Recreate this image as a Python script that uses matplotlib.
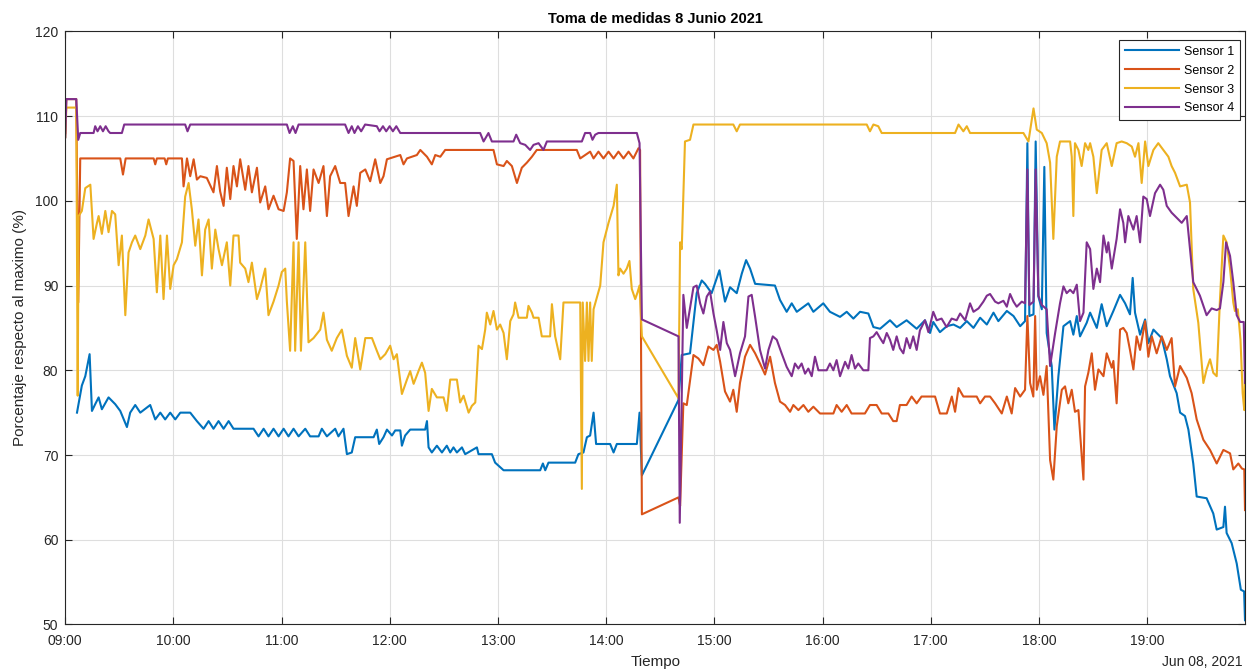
import numpy as np
import pandas as pd
import matplotlib
matplotlib.use("Agg")
import matplotlib.pyplot as plt
import matplotlib.dates as mdates

plt.rcParams['font.family'] = ['Liberation Sans', 'DejaVu Sans']

# Readings: (minutes after 09:00, percentage of maximum)
sensor1 = [
    (6.5, 75.0), (9.2, 78.2), (11.1, 79.3), (13.5, 81.9), (14.8, 75.2), (16.6, 76.0), (18.5, 76.8),
    (20.3, 75.4), (24.0, 76.8), (27.7, 76.0), (30.5, 75.2), (34.2, 73.3), (36.0, 75.0), (38.8, 75.9),
    (41.6, 75.0), (47.1, 75.9), (49.9, 74.2), (52.7, 75.0), (55.4, 74.2), (58.2, 75.0), (61.0, 74.2),
    (63.8, 75.0), (69.3, 75.0), (73.0, 74.0), (76.7, 73.1), (79.5, 74.0), (82.2, 73.1), (85.0, 74.0),
    (87.8, 73.1), (90.6, 74.0), (93.3, 73.1), (104.4, 73.1), (107.2, 72.2), (110.0, 73.1), (112.7, 72.2),
    (115.5, 73.1), (118.3, 72.2), (121.1, 73.1), (123.8, 72.2), (126.6, 73.1), (129.4, 72.2), (133.1, 73.1),
    (135.8, 72.2), (140.5, 72.2), (142.3, 73.1), (145.1, 72.2), (149.7, 73.1), (151.5, 72.2), (154.3, 73.1),
    (156.2, 70.1), (158.9, 70.3), (160.8, 72.1),
    (163.6, 72.1), (171.0, 72.1), (172.8, 73.0), (174.1, 71.3), (176.5, 72.1), (178.4, 73.0), (181.2, 72.3),
    (183.0, 72.9), (185.8, 72.9), (186.7, 71.1), (188.5, 72.3), (191.3, 73.0), (199.6, 73.0), (200.6, 74.0),
    (201.5, 70.9), (203.3, 70.3), (206.1, 71.1), (208.9, 70.3), (211.6, 71.1), (213.5, 70.3), (215.3, 70.9),
    (217.2, 70.3), (220.0, 70.9), (221.8, 70.1), (228.3, 70.9), (229.2, 70.1), (236.6, 70.1), (238.4, 69.1),
    (243.1, 68.2), (263.4, 68.2), (264.9, 69.0), (266.2, 68.2), (268.0, 69.1), (282.8, 69.1), (284.6, 70.1),
    (287.4, 70.3), (289.3, 72.1), (291.1, 72.3), (293.0, 75.0), (294.4, 71.3), (302.2, 71.3), (304.1, 70.3),
    (305.9, 71.3), (317.0, 71.3), (318.5, 75.0), (319.8, 67.6), (340.1, 76.5),
    (341.9, 81.8), (346.5, 82.0), (350.2, 89.1), (353.0, 90.6), (354.8, 90.2), (358.5, 89.1), (362.8, 91.8),
    (365.9, 88.1), (368.7, 89.8), (372.4, 89.1), (375.2, 91.4), (377.6, 93.0), (379.8, 92.0), (382.6, 90.2),
    (393.6, 90.0), (396.4, 88.3), (400.1, 86.9), (402.9, 87.9), (405.7, 86.9), (412.1, 87.9), (414.9, 86.9),
    (420.4, 87.9), (424.1, 86.9), (429.7, 86.3), (433.4, 86.9), (437.1, 86.1), (440.8, 86.9), (445.4, 86.7),
    (448.2, 85.1), (451.9, 84.9), (457.4, 85.9), (461.1, 85.1), (466.6, 85.9), (472.2, 84.9), (476.8, 85.9),
    (479.6, 84.4), (481.4, 85.7), (485.1, 84.5),
    (488.9, 85.2), (492.6, 85.4), (496.3, 85.0), (500.0, 85.8), (503.7, 85.0), (507.4, 86.2), (511.1, 85.4),
    (514.8, 86.8), (517.5, 85.8), (522.2, 87.0), (525.9, 86.4), (529.6, 85.2), (532.3, 85.8), (533.6, 106.8),
    (534.7, 86.4), (537.0, 86.6), (538.2, 107.0), (539.7, 88.7), (541.6, 87.2), (543.0, 104.0), (544.3, 84.4),
    (547.1, 80.5), (548.6, 73.0), (550.8, 79.3), (553.6, 85.2), (557.3, 85.8), (559.1, 84.2), (561.0, 86.4),
    (562.8, 84.0), (566.5, 85.6), (568.4, 86.8), (572.1, 85.0), (574.8, 87.8), (577.6, 85.2), (581.3, 87.0),
    (585.0, 88.9), (587.8, 87.9), (590.5, 86.6), (592.0, 90.9), (593.3, 86.8), (596.1, 84.2), (598.9, 86.0),
    (600.7, 83.2), (603.5, 84.8), (605.3, 84.4), (608.1, 83.8), (610.9, 81.3), (612.7, 79.3), (616.4, 77.3),
    (618.3, 75.0), (621.0, 74.6), (622.9, 73.0), (625.6, 69.0), (627.5, 65.1), (633.0, 64.9), (636.7, 63.1),
    (638.6, 61.2), (642.3, 61.5), (643.2, 63.9), (644.1, 60.8), (646.9, 59.6), (649.7, 57.2), (652.0, 54.1),
    (653.8, 53.9), (654.3, 50.5),
]

sensor2 = [
    (0.0, 108.0), (0.6, 112.0), (6.1, 112.0), (7.2, 88.0), (8.3, 105.0),
    (30.5, 105.0), (32.0, 103.1), (33.5, 105.0), (49.0, 105.0), (49.9, 104.3), (50.8, 105.0), (55.1, 105.0),
    (56.0, 104.3), (56.9, 105.0), (64.7, 105.0), (65.6, 101.7), (67.5, 105.0), (69.3, 102.9), (71.2, 104.9),
    (73.0, 102.5), (74.9, 102.9), (78.5, 102.7), (82.2, 101.0), (84.1, 104.1), (85.9, 101.1), (87.8, 99.4),
    (89.6, 103.9), (91.5, 100.2), (93.3, 104.1), (95.2, 101.7), (97.0, 104.9), (99.8, 101.3), (101.6, 104.1),
    (103.5, 101.0), (106.3, 103.9), (108.1, 99.8), (110.9, 101.7), (112.7, 99.0), (115.5, 100.6), (118.3, 99.0),
    (121.1, 98.8), (122.9, 101.0), (124.7, 105.0), (126.6, 104.7), (128.4, 95.5), (130.3, 104.1), (132.1, 99.0),
    (134.0, 103.7), (135.8, 98.8), (137.7, 103.7), (140.5, 102.1), (143.2, 104.1), (145.1, 98.2), (146.9, 102.9),
    (149.7, 104.1), (152.5, 102.1), (155.2, 102.1), (157.1, 98.2), (159.9, 101.7), (161.7, 99.4), (163.6, 103.3),
    (166.4, 103.7), (169.1, 102.3), (171.9, 104.9), (174.7, 102.1), (176.5, 102.9), (178.4, 104.9), (185.8, 105.4),
    (187.6, 104.3), (189.5, 105.0), (195.0, 105.4), (196.9, 106.0), (200.6, 105.2), (203.3, 104.3), (205.2, 105.4),
    (208.0, 105.2), (210.7, 106.0), (237.5, 106.0), (239.4, 104.3), (243.1, 104.1), (244.9, 104.7), (247.7, 104.1),
    (250.5, 102.1), (253.2, 103.9), (256.0, 104.5), (258.8, 105.2), (261.5, 106.0), (283.7, 106.0), (285.6, 105.0),
    (291.1, 105.8), (293.0, 105.0), (295.7, 105.8), (298.5, 105.0), (301.3, 105.8), (304.1, 105.0), (306.8, 105.8),
    (309.6, 105.0), (312.4, 105.8), (315.1, 105.0), (317.9, 106.2), (318.8, 106.0), (319.8, 63.0), (340.1, 65.0),
    (341.0, 64.0), (342.8, 76.1), (344.7, 75.9), (348.4, 81.8), (351.1, 81.4), (353.9, 80.6), (356.7, 82.8),
    (359.5, 82.4), (361.3, 83.0), (363.2, 81.0), (365.9, 77.5), (368.7, 76.3), (370.5, 77.7), (372.4, 75.1),
    (374.2, 78.5), (377.0, 81.6), (379.8, 83.0), (382.6, 82.0), (385.3, 80.8), (388.1, 79.5), (390.9, 81.6),
    (393.6, 78.5), (396.4, 76.3), (399.2, 75.9), (402.0, 75.1), (403.8, 75.9), (406.6, 75.3), (409.4, 75.9),
    (412.1, 75.1), (414.9, 75.7), (418.6, 74.9), (426.0, 74.9), (427.8, 75.9), (430.6, 75.1), (433.4, 75.9),
    (436.1, 74.9), (443.5, 74.9), (446.3, 75.9), (450.0, 75.9), (452.8, 74.9), (456.5, 74.9), (459.2, 74.0),
    (461.1, 74.0), (462.9, 75.9), (466.6, 75.9), (469.4, 76.9), (472.2, 76.1), (474.9, 76.9), (482.4, 76.9),
    (485.1, 74.9), (488.9, 74.9), (491.7, 76.9), (493.5, 75.1), (495.4, 77.9), (498.1, 76.9), (505.5, 76.9),
    (507.4, 76.1), (510.1, 76.9), (512.9, 76.9), (515.7, 76.1), (519.4, 74.9), (522.2, 76.9), (524.9, 74.9),
    (526.8, 77.9), (529.6, 76.9), (532.3, 77.7), (533.6, 86.4), (535.1, 78.5), (536.9, 76.9), (537.9, 86.4),
    (538.8, 77.7), (540.6, 79.3), (542.5, 77.1), (544.3, 80.5), (546.2, 69.4), (548.0, 67.1), (549.9, 73.4),
    (552.7, 77.7), (554.5, 78.1), (556.3, 76.1), (558.2, 77.7), (560.0, 75.1), (561.9, 75.3), (564.7, 67.1),
    (565.6, 78.1), (567.4, 79.7), (569.3, 82.0), (571.1, 77.7), (573.0, 80.1), (575.8, 79.3), (577.6, 82.0),
    (580.4, 80.3), (581.3, 81.1), (583.1, 76.1), (585.0, 84.8), (586.8, 85.0), (588.7, 84.4), (590.5, 82.4),
    (592.4, 80.1), (594.2, 84.0), (596.1, 82.4), (598.9, 85.8), (600.7, 81.6), (602.6, 84.0), (605.3, 82.0),
    (608.1, 84.0), (610.9, 82.4), (613.6, 83.8), (615.5, 78.1), (618.3, 80.5), (622.0, 79.1), (624.7, 77.3),
    (627.5, 74.2), (631.2, 71.8), (634.9, 70.6), (638.6, 69.0), (642.3, 70.6), (646.0, 70.2), (647.8, 68.3),
    (650.6, 69.0), (652.6, 68.4), (653.9, 68.3), (654.3, 63.5),
]

sensor3 = [
    (0.0, 107.5), (0.6, 111.0), (6.1, 111.0), (6.9, 77.0), (7.4, 98.2), (9.2, 98.8), (11.1, 101.5),
    (13.9, 101.9), (15.7, 95.5), (17.6, 97.4), (18.5, 98.2), (20.3, 96.1), (22.2, 98.8), (24.0, 96.3),
    (25.9, 98.8), (27.7, 98.4), (29.6, 92.4), (31.4, 95.9), (33.3, 86.5), (35.1, 93.9), (37.0, 95.1),
    (38.8, 95.9), (41.6, 94.3), (44.4, 95.9), (46.2, 97.8), (49.0, 95.5), (50.8, 89.2), (52.7, 95.9),
    (54.5, 88.4), (56.4, 95.9), (58.2, 89.6), (60.1, 92.4), (61.9, 93.1), (64.7, 95.1), (66.5, 100.5),
    (68.4, 102.1), (70.2, 99.0), (72.1, 94.7), (73.9, 97.8), (75.8, 91.2), (77.6, 96.6), (79.5, 97.8),
    (81.3, 92.0), (83.2, 96.6), (85.0, 94.3), (86.9, 92.4), (89.6, 95.1), (91.5, 90.0), (93.3, 95.9),
    (96.1, 95.9), (97.0, 92.7), (99.8, 92.0), (101.6, 90.4), (103.5, 92.7), (106.3, 88.4), (108.1, 89.6),
    (110.9, 92.0), (112.7, 86.5), (115.5, 88.1), (118.3, 90.0), (120.1, 91.6), (122.0, 92.0), (122.9, 88.1),
    (124.7, 82.3), (126.6, 95.1), (127.5, 82.3), (129.4, 95.1), (130.7, 82.3), (133.1, 95.1), (134.9, 83.3),
    (137.7, 83.8), (141.4, 84.8), (143.2, 86.8), (145.1, 83.6), (147.8, 82.3), (150.6, 83.8), (153.4, 84.8),
    (156.2, 81.7), (158.9, 80.3), (160.8, 83.8), (163.6, 80.1), (166.4, 83.8), (170.1, 83.8), (172.8, 82.3),
    (174.7, 81.3), (177.5, 81.9), (180.2, 82.9), (182.1, 81.3), (183.9, 81.9), (186.7, 77.2), (189.5, 78.9),
    (191.3, 79.9), (193.2, 78.4), (195.9, 79.9), (197.8, 80.9), (199.6, 79.7), (201.5, 75.2), (203.3, 77.8),
    (206.1, 76.8), (209.8, 76.8), (211.6, 75.2), (213.5, 78.9), (217.2, 78.9), (219.0, 76.2), (220.9, 77.0),
    (223.7, 75.0), (225.5, 75.8), (227.4, 76.2), (229.2, 82.9), (231.1, 82.5), (232.9, 84.8), (233.8, 86.8),
    (235.7, 85.4), (237.5, 87.0), (239.4, 84.8), (241.2, 85.4), (243.1, 84.4), (244.9, 81.3), (246.8, 85.8),
    (248.6, 86.6), (249.5, 88.0), (251.4, 86.2), (256.0, 86.2), (256.9, 87.6), (258.8, 86.8), (259.7, 86.2),
    (262.5, 86.2), (264.3, 84.0), (268.9, 84.0), (269.9, 87.8), (271.7, 84.0), (274.5, 81.3), (276.3, 88.0),
    (285.6, 88.0), (286.5, 66.0), (287.0, 88.0), (288.3, 81.1), (289.3, 88.0), (290.2, 81.1), (291.1, 88.0),
    (292.0, 81.1), (293.0, 87.2), (296.7, 90.0), (298.5, 95.1), (301.3, 97.4), (304.1, 99.4), (305.9, 101.9),
    (306.8, 91.2), (307.7, 92.0), (309.6, 91.4), (311.4, 92.0), (312.9, 92.9), (314.2, 89.6), (316.1, 88.4),
    (317.4, 89.2), (318.5, 90.0), (319.8, 84.0), (340.1, 76.7),
    (341.0, 95.1), (341.9, 94.3), (343.7, 107.0), (346.5, 107.2), (348.4, 109.0), (370.5, 109.0),
    (372.4, 108.2), (374.2, 109.0), (444.5, 109.0), (446.3, 108.2), (448.2, 109.0), (450.9, 108.8),
    (452.8, 108.0), (493.5, 108.0), (495.4, 109.0), (498.1, 108.2), (500.0, 108.8), (501.8, 108.0),
    (531.4, 108.0), (534.2, 107.0), (537.0, 110.9), (538.8, 108.4), (541.6, 108.0), (544.3, 106.8),
    (546.2, 104.5), (548.0, 95.5), (549.9, 105.2), (551.7, 107.0), (557.3, 107.0), (558.2, 105.2),
    (559.1, 98.2), (560.0, 106.8), (561.9, 106.0), (563.7, 104.1), (565.6, 106.8), (567.4, 106.0),
    (568.4, 106.8), (570.2, 105.2), (572.1, 100.9), (574.8, 106.0), (577.6, 106.8), (580.4, 104.1),
    (583.1, 106.8), (585.9, 107.0), (588.7, 106.8), (591.5, 106.4), (593.3, 105.2), (595.2, 106.8),
    (597.0, 102.1), (598.9, 107.0), (600.7, 104.1), (603.5, 106.0), (606.2, 106.8), (609.0, 106.0),
    (611.8, 105.2), (613.6, 104.1), (615.5, 103.3), (618.3, 101.7), (622.0, 101.9), (623.8, 99.8),
    (625.6, 89.6), (628.4, 85.6), (631.2, 78.5), (633.0, 80.1), (634.9, 81.3), (636.7, 79.7),
    (638.6, 79.3), (640.4, 88.3), (642.3, 95.9), (644.1, 95.1), (646.0, 92.0), (647.8, 88.0),
    (648.7, 87.0), (650.3, 87.2), (651.8, 83.6), (653.0, 77.3), (653.9, 75.3), (654.3, 79.0),
]

sensor4 = [
    (0.0, 107.5), (0.6, 112.0), (6.1, 112.0), (7.2, 107.2), (8.3, 108.0), (15.7, 108.0), (16.6, 108.8),
    (17.9, 108.2), (19.4, 108.8), (20.9, 108.2), (22.4, 108.8), (24.0, 108.2), (24.9, 108.0), (31.4, 108.0),
    (32.7, 109.0), (66.5, 109.0), (67.8, 108.2), (69.3, 109.0), (122.9, 109.0), (124.4, 108.0), (126.2, 108.8),
    (127.7, 108.0), (129.4, 109.0), (155.2, 109.0), (157.1, 108.0), (158.9, 108.8), (160.4, 108.0),
    (162.3, 108.8), (164.1, 108.2), (166.3, 109.0), (172.8, 108.8), (174.3, 108.2), (176.2, 108.8),
    (178.0, 108.2), (179.9, 108.8), (181.7, 108.2), (183.6, 108.8), (185.8, 108.0), (230.1, 108.0),
    (232.0, 107.0), (234.7, 108.0), (236.6, 107.0), (248.6, 107.0), (250.1, 107.8), (252.3, 106.8),
    (255.1, 106.6), (257.8, 106.0), (259.7, 106.6), (262.5, 106.8), (265.2, 106.0), (267.1, 107.0),
    (286.5, 107.0), (288.3, 108.0), (291.1, 108.0), (292.4, 107.2), (293.9, 107.8), (295.7, 108.0),
    (317.0, 108.0), (318.5, 106.8), (319.8, 86.0), (340.1, 84.0), (340.8, 62.0),
    (342.8, 88.9), (344.7, 85.0), (346.5, 87.3), (348.4, 89.8), (350.2, 90.0), (352.1, 87.9), (353.9, 86.7),
    (355.8, 88.7), (357.6, 89.3), (359.5, 86.7), (361.3, 84.7), (363.2, 82.4), (365.0, 85.7), (366.9, 83.2),
    (368.7, 82.4), (371.5, 79.3), (374.2, 82.0), (377.0, 84.0), (378.9, 88.7), (380.7, 88.9), (382.6, 86.3),
    (385.3, 82.4), (388.1, 80.2), (390.0, 82.4), (392.4, 84.0), (394.6, 83.6), (397.3, 82.0), (400.1, 80.4),
    (402.9, 79.3), (404.7, 80.8), (406.6, 80.2), (408.4, 80.8), (410.3, 79.6), (412.1, 80.2), (414.0, 79.3),
    (415.8, 81.6), (417.7, 80.0), (422.3, 80.0), (424.1, 80.8), (426.0, 80.0), (427.8, 81.2), (429.7, 79.3),
    (432.5, 81.0), (434.3, 80.2), (436.1, 81.8), (438.0, 80.2), (439.8, 80.8), (442.6, 80.0), (445.4, 80.0),
    (446.3, 83.8), (448.2, 84.0), (450.0, 84.5), (451.9, 83.8), (453.7, 83.2), (455.6, 84.4), (457.4, 83.6),
    (459.2, 82.4), (461.1, 84.0), (462.9, 82.6), (464.8, 82.0), (466.6, 83.8), (468.5, 82.6), (470.3, 84.0),
    (472.2, 82.4), (474.0, 84.7), (476.8, 85.9), (478.7, 84.5), (481.4, 86.9), (483.3, 85.9), (486.0, 86.1),
    (488.8, 85.1), (491.6, 86.1), (494.4, 85.9), (496.3, 86.7), (499.1, 85.9), (501.8, 87.9), (503.7, 86.9),
    (506.5, 87.3), (509.2, 88.1), (511.1, 88.8), (512.9, 89.0), (515.7, 88.1), (517.5, 87.9), (520.3, 88.2),
    (522.2, 87.5), (524.0, 89.0), (525.9, 88.1), (527.7, 87.5), (530.5, 88.1), (532.3, 87.9), (533.6, 103.7),
    (534.7, 87.7), (537.0, 88.1), (538.2, 103.7), (539.7, 88.8), (541.6, 87.7), (544.3, 87.2), (546.2, 80.5),
    (549.0, 84.4), (551.7, 87.9), (553.6, 89.9), (555.4, 89.1), (557.3, 89.5), (559.1, 89.1), (561.0, 90.1),
    (562.8, 85.8), (564.7, 86.8), (566.5, 95.1), (568.4, 94.3), (570.2, 89.6), (572.1, 92.0), (573.9, 90.4),
    (575.8, 95.9), (577.6, 93.9), (578.5, 95.1), (580.4, 92.0), (583.1, 95.5), (585.0, 99.0), (586.8, 97.4),
    (587.8, 95.1), (589.6, 98.2), (592.4, 96.6), (594.2, 98.2), (596.1, 95.1), (597.9, 100.5), (599.8, 100.2),
    (601.6, 98.2), (604.4, 100.9), (607.2, 101.9), (609.0, 101.3), (610.9, 99.4), (613.6, 98.6), (616.4, 98.0),
    (619.2, 97.4), (622.0, 98.2), (623.8, 94.3), (625.6, 90.4), (629.3, 88.8), (633.0, 86.5), (635.8, 87.3),
    (638.6, 87.1), (640.4, 87.3), (642.3, 90.4), (643.8, 95.1), (646.0, 93.5), (647.8, 90.4), (649.7, 86.5),
    (651.6, 85.7), (653.6, 85.7), (654.3, 78.5),
]

series_names = ['Sensor 1', 'Sensor 2', 'Sensor 3', 'Sensor 4']
series_colors = ['#0072BD', '#D95319', '#EDB120', '#7E2F8E']
hour_ticks = list(range(9, 20))
y_ticks = list(range(50, 121, 10))

start = pd.Timestamp('2021-06-08 09:00')
end = start + pd.Timedelta(minutes=654.3)

fig = plt.figure(figsize=(12.48, 6.72), dpi=100)
ax = fig.add_axes([0.0523, 0.0707, 0.9453, 0.8827])

for data, name, color in zip([sensor1, sensor2, sensor3, sensor4], series_names, series_colors):
    arr = np.array(data)
    t = start + pd.to_timedelta(arr[:, 0], unit='min')
    ax.plot(t, arr[:, 1], color=color, lw=1.5, label=name)

ax.set_xlim(start, end)
ax.set_ylim(50, 120)
ax.set_yticks(y_ticks)
ax.set_xticks([start + pd.Timedelta(hours=h - 9) for h in hour_ticks])
ax.xaxis.set_major_formatter(mdates.DateFormatter('%H:%M'))

ax.grid(True, color='#dedede', lw=0.8)
ax.set_axisbelow(True)
ax.tick_params(direction='in', length=5, width=0.8, colors='#262626', labelsize=10,
               top=True, right=True)
ax.tick_params(axis='x', pad=7)
ax.tick_params(axis='y', pad=5)
for s in ax.spines.values():
    s.set_color('#262626')
    s.set_linewidth(0.8)

ax.set_title('Toma de medidas 8 Junio 2021', fontsize=10.5, fontweight='bold', color='#000000', pad=6)
ax.set_ylabel('Porcentaje respecto al maximo (%)', fontsize=11, color='#262626', labelpad=6)
ax.set_xlabel('Tiempo', fontsize=11, color='#262626', labelpad=5)
ax.text(0.9975, -0.052, 'Jun 08, 2021', transform=ax.transAxes, ha='right', va='top',
        fontsize=10, color='#262626')

leg = ax.legend(loc='upper right', fontsize=9, handlelength=4.3, handletextpad=0.45,
                borderpad=0.45, labelspacing=0.55, fancybox=False, framealpha=1,
                edgecolor='#262626', borderaxespad=0, bbox_to_anchor=(0.9958, 0.985))
leg.get_frame().set_linewidth(0.8)

fig.savefig('out.png', dpi=100)
